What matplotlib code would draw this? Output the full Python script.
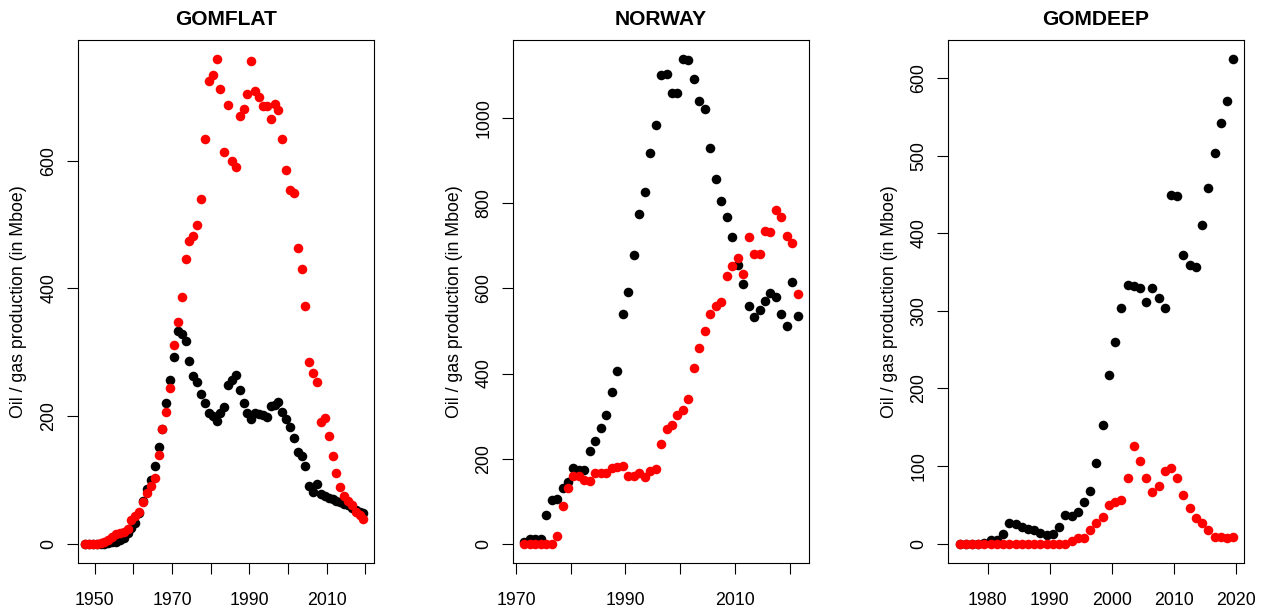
import numpy as np
import matplotlib
matplotlib.use("Agg")
import matplotlib.pyplot as plt

plt.rcParams['font.family'] = ['Liberation Sans', 'DejaVu Sans']

# ---------------- data (Mboe per year) ----------------
gomflat_years = list(range(1947, 2020))
gomflat_oil = [0, 0, 0, 0, 0, 0, 1, 2, 3, 5,
               9, 16, 25, 33, 48, 67, 85, 99, 121, 152,
               180, 220, 257, 292, 333, 329, 317, 287, 262, 253,
               234, 221, 205, 200, 192, 204, 214, 248, 257, 265,
               241, 221, 204, 195, 204, 203, 201, 199, 216, 218,
               222, 207, 195, 182, 166, 143, 137, 122, 91, 81,
               93, 77, 74, 72, 70, 67, 66, 62, 60, 56,
               52, 50, 48]
gomflat_gas = [0, 0, 0, 0, 1, 3, 5, 10, 15, 17,
               18, 23, 37, 43, 50, 65, 80, 91, 103, 139,
               179, 206, 244, 312, 348, 387, 446, 475, 482, 500,
               540, 634, 725, 734, 759, 713, 614, 687, 600, 591,
               670, 682, 704, 756, 709, 700, 686, 686, 665, 689,
               679, 634, 585, 554, 549, 463, 430, 373, 285, 267,
               254, 191, 197, 169, 137, 111, 88, 74, 67, 60,
               50, 45, 38]

norway_years = list(range(1971, 2022))
norway_oil = [3, 12, 12, 12, 68, 103, 106, 131, 144, 178,
              172, 172, 217, 241, 271, 302, 356, 405, 539, 591,
              679, 776, 827, 918, 984, 1102, 1104, 1060, 1060, 1139,
              1137, 1092, 1040, 1023, 931, 857, 805, 769, 721, 655,
              610, 559, 533, 550, 571, 590, 580, 541, 512, 615,
              535]
norway_gas = [0, 0, 0, 0, 0, 0, 17, 88, 130, 158,
              158, 150, 147, 165, 166, 165, 178, 180, 182, 160,
              158, 165, 157, 170, 176, 235, 270, 279, 303, 314,
              339, 413, 459, 500, 540, 558, 568, 629, 654, 671,
              635, 720, 682, 680, 736, 734, 784, 768, 723, 706,
              587]

gomdeep_years = list(range(1975, 2020))
gomdeep_oil = [0, 0, 0, 0, 1, 5, 4, 13, 26, 25,
               21, 19, 18, 14, 11, 12, 22, 37, 36, 41,
               54, 68, 104, 153, 217, 260, 304, 333, 332, 329,
               311, 329, 317, 303, 449, 448, 372, 359, 356, 410,
               458, 503, 542, 571, 624]
gomdeep_gas = [0, 0, 0, 0, 0, 0, 0, 0, 0, 0,
               0, 0, 0, 0, 0, 0, 0, 0, 3, 7,
               7, 18, 27, 34, 50, 54, 56, 85, 126, 106,
               85, 67, 74, 94, 98, 85, 62, 46, 33, 26,
               18, 9, 9, 7, 8]

titles = ["GOMFLAT", "NORWAY", "GOMDEEP"]
ylabel = "Oil / gas production (in Mboe)"

gomflat_xticks = [1950, 1960, 1970, 1980, 1990, 2000, 2010, 2020]
gomflat_xlabels = ["1950", "", "1970", "", "1990", "", "2010", ""]
norway_xticks = [1970, 1980, 1990, 2000, 2010, 2020]
norway_xlabels = ["1970", "", "1990", "", "2010", ""]
gomdeep_xticks = [1980, 1990, 2000, 2010, 2020]
gomdeep_xlabels = ["1980", "1990", "2000", "2010", "2020"]

gomflat_yticks = [0, 200, 400, 600]
norway_yticks = [0, 200, 400, 600, 800, 1000]
gomdeep_yticks = [0, 100, 200, 300, 400, 500, 600]

panels = [
    (gomflat_years, gomflat_oil, gomflat_gas, gomflat_xticks, gomflat_xlabels,
     gomflat_yticks, (1945.67, 2022.1), (-30.4, 789.4)),
    (norway_years, norway_oil, norway_gas, norway_xticks, norway_xlabels,
     norway_yticks, (1969.5, 2023.5), (-45.6, 1184.4)),
    (gomdeep_years, gomdeep_oil, gomdeep_gas, gomdeep_xticks, gomdeep_xlabels,
     gomdeep_yticks, (1973.68, 2021.2), (-25.0, 649.0)),
]

# ---------------- figure ----------------
W, H = 1269, 612
fig = plt.figure(figsize=(W / 100, H / 100), dpi=100)
lefts_px = [78, 513.3, 948.3]
ax_w_px, ax_bottom_px, ax_h_px = 295.5, 49, 523

for i, (yrs, oil, gas, xt, xl, yt, xlim, ylim) in enumerate(panels):
    ax = fig.add_axes([lefts_px[i] / W, ax_bottom_px / H, ax_w_px / W, ax_h_px / H])
    x = np.asarray(yrs) + 0.5  # mid-year positions
    ax.plot(x, oil, 'o', color='black', ms=6.9, mew=0, zorder=3)
    ax.plot(x, gas, 'o', color='red', ms=6.9, mew=0, zorder=4)
    ax.set_xlim(*xlim)
    ax.set_ylim(*ylim)
    ax.set_xticks(xt)
    ax.set_xticklabels(xl)
    ax.set_yticks(yt)
    ax.set_yticklabels([str(v) for v in yt])
    ax.tick_params(axis='both', direction='out', length=8, width=0.8,
                   labelsize=12.8, color='black')
    ax.tick_params(axis='x', pad=13)
    ax.tick_params(axis='y', pad=7, labelrotation=90)
    for lab in ax.get_yticklabels():
        lab.set_va('center')
    for sp in ax.spines.values():
        sp.set_linewidth(0.8)
        sp.set_color('black')
    ax.set_title(titles[i], fontsize=15.1, fontweight='bold', pad=11)
    ax.set_ylabel(ylabel, fontsize=12.8, va='center')
    ax.yaxis.set_label_coords(-0.2, 0.5)

fig.savefig("out.png", dpi=100)
